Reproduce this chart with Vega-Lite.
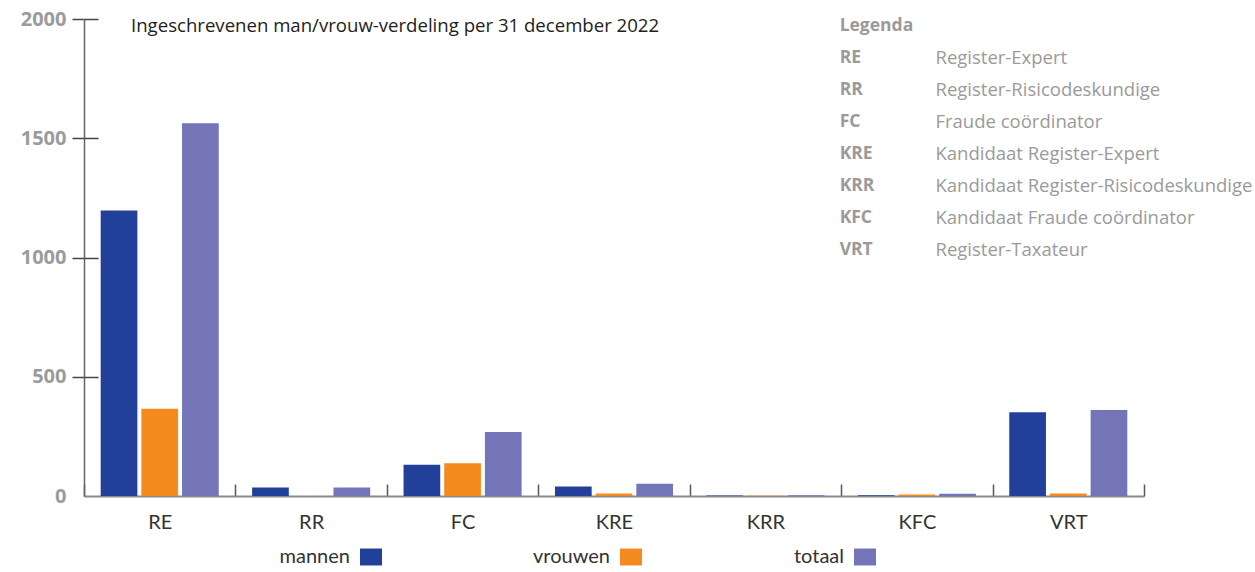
{
  "$schema": "https://vega.github.io/schema/vega-lite/v6.json",
  "width": 1060,
  "height": 477,
  "autosize": {"type": "none"},
  "padding": {"left": 84, "top": 19, "right": 111, "bottom": 76},
  "config": {"view": {"stroke": null}, "font": "Open Sans"},
  "title": {
    "text": "Ingeschrevenen man/vrouw-verdeling per 31 december 2022",
    "anchor": "start",
    "frame": "group",
    "offset": -36,
    "dx": 47,
    "baseline": "middle",
    "font": "Open Sans",
    "fontSize": 18.6,
    "fontWeight": "normal",
    "color": "#222222"
  },
  "resolve": {"scale": {"y": "independent"}, "axis": {"y": "independent"}},
  "layer": [
    {
      "data": {
        "values": [
          {"categorie": "RE", "geslacht": "mannen", "aantal": 1197},
          {"categorie": "RE", "geslacht": "vrouwen", "aantal": 366},
          {"categorie": "RE", "geslacht": "totaal", "aantal": 1563},
          {"categorie": "RR", "geslacht": "mannen", "aantal": 36},
          {"categorie": "RR", "geslacht": "vrouwen", "aantal": 0},
          {"categorie": "RR", "geslacht": "totaal", "aantal": 36},
          {"categorie": "FC", "geslacht": "mannen", "aantal": 131},
          {"categorie": "FC", "geslacht": "vrouwen", "aantal": 137},
          {"categorie": "FC", "geslacht": "totaal", "aantal": 268},
          {"categorie": "KRE", "geslacht": "mannen", "aantal": 40},
          {"categorie": "KRE", "geslacht": "vrouwen", "aantal": 11},
          {"categorie": "KRE", "geslacht": "totaal", "aantal": 51},
          {"categorie": "KRR", "geslacht": "mannen", "aantal": 2},
          {"categorie": "KRR", "geslacht": "vrouwen", "aantal": 1},
          {"categorie": "KRR", "geslacht": "totaal", "aantal": 3},
          {"categorie": "KFC", "geslacht": "mannen", "aantal": 3},
          {"categorie": "KFC", "geslacht": "vrouwen", "aantal": 6},
          {"categorie": "KFC", "geslacht": "totaal", "aantal": 9},
          {"categorie": "VRT", "geslacht": "mannen", "aantal": 351},
          {"categorie": "VRT", "geslacht": "vrouwen", "aantal": 10},
          {"categorie": "VRT", "geslacht": "totaal", "aantal": 361}
        ]
      },
      "mark": {"type": "bar"},
      "encoding": {
        "x": {
          "field": "categorie",
          "type": "nominal",
          "sort": ["RE", "RR", "FC", "KRE", "KRR", "KFC", "VRT"],
          "scale": {"domain": ["RE", "RR", "FC", "KRE", "KRR", "KFC", "VRT"], "paddingInner": 0, "paddingOuter": 0},
          "axis": {
            "title": null,
            "labelAngle": 0,
            "labelFont": "Lato",
            "labelFontSize": 20,
            "labelColor": "#333333",
            "tickBand": "extent",
            "tickSize": -12,
            "tickColor": "#555555",
            "tickWidth": 1.5,
            "domainColor": "#8a8a8a",
            "domainWidth": 2,
            "labelPadding": 28
          }
        },
        "xOffset": {
          "field": "geslacht",
          "type": "nominal",
          "sort": ["mannen", "vrouwen", "totaal"],
          "scale": {"paddingInner": 0.098, "paddingOuter": 0.41}
        },
        "y": {
          "field": "aantal",
          "type": "quantitative",
          "scale": {"domain": [0, 2000]},
          "axis": {
            "title": null,
            "values": [0, 500, 1000, 1500, 2000],
            "format": "d",
            "labelFont": "Open Sans",
            "labelFontWeight": "bold",
            "labelFontSize": 20,
            "labelColor": "#9b9b9b",
            "tickSize": 12,
            "tickColor": {"condition": {"test": "datum.value === 0", "value": "transparent"}, "value": "#444444"},
            "tickWidth": 1.5,
            "domainColor": "#666666",
            "domainWidth": 1.5,
            "labelPadding": 6,
            "grid": false
          }
        },
        "color": {
          "field": "geslacht",
          "type": "nominal",
          "sort": ["mannen", "vrouwen", "totaal"],
          "scale": {"domain": ["mannen", "vrouwen", "totaal"], "range": ["#22409a", "#f58a1f", "#7375b8"]},
          "legend": {
            "orient": "none",
            "legendX": 276,
            "legendY": 527,
            "direction": "horizontal",
            "title": null,
            "padding": 0,
            "symbolType": "M-1,-0.77H1V0.77H-1Z",
            "symbolSize": 484,
            "symbolStrokeWidth": 0,
            "labelAlign": "right",
            "labelOffset": -32,
            "labelFont": "Lato",
            "labelFontSize": 20,
            "labelColor": "#333333",
            "labelLimit": 200,
            "columnPadding": 151
          }
        }
      }
    },
    {
      "data": {"values": [{}]},
      "mark": {"type": "rule", "opacity": 0},
      "encoding": {
        "y": {
          "datum": 0,
          "type": "quantitative",
          "scale": {"domain": [0, 2000]},
          "axis": {
            "orient": "left",
            "title": null,
            "values": [500, 1000, 1500, 2000],
            "labels": false,
            "domain": false,
            "ticks": true,
            "tickSize": 14,
            "offset": -14,
            "tickColor": "#444444",
            "tickWidth": 1.5,
            "grid": false
          }
        }
      }
    },
    {
      "data": {
        "values": [
          {"code": "Legenda", "omschrijving": "", "nr": 0},
          {"code": "RE", "omschrijving": "Register-Expert", "nr": 1},
          {"code": "RR", "omschrijving": "Register-Risicodeskundige", "nr": 2},
          {"code": "FC", "omschrijving": "Fraude coördinator", "nr": 3},
          {"code": "KRE", "omschrijving": "Kandidaat Register-Expert", "nr": 4},
          {"code": "KRR", "omschrijving": "Kandidaat Register-Risicodeskundige", "nr": 5},
          {"code": "KFC", "omschrijving": "Kandidaat Fraude coördinator", "nr": 6},
          {"code": "VRT", "omschrijving": "Register-Taxateur", "nr": 7}
        ]
      },
      "layer": [
        {
          "mark": {"type": "text", "align": "left", "baseline": "middle", "font": "Open Sans", "fontWeight": "bold", "fontSize": 17.5, "color": "#9a9a9a"},
          "encoding": {
            "x": {"datum": "KFC", "type": "nominal", "bandPosition": -0.01},
            "y": {"field": "nr", "type": "quantitative", "scale": {"domain": [-0.219, 14.7], "reverse": true, "nice": false, "zero": false}, "axis": null},
            "text": {"field": "code"}
          }
        },
        {
          "mark": {"type": "text", "align": "left", "baseline": "middle", "font": "Open Sans", "fontWeight": "normal", "fontSize": 18.5, "color": "#9a9a9a"},
          "encoding": {
            "x": {"datum": "KFC", "type": "nominal", "bandPosition": 0.623},
            "y": {"field": "nr", "type": "quantitative", "scale": {"domain": [-0.219, 14.7], "reverse": true, "nice": false, "zero": false}, "axis": null},
            "text": {"field": "omschrijving"}
          }
        }
      ]
    }
  ]
}
